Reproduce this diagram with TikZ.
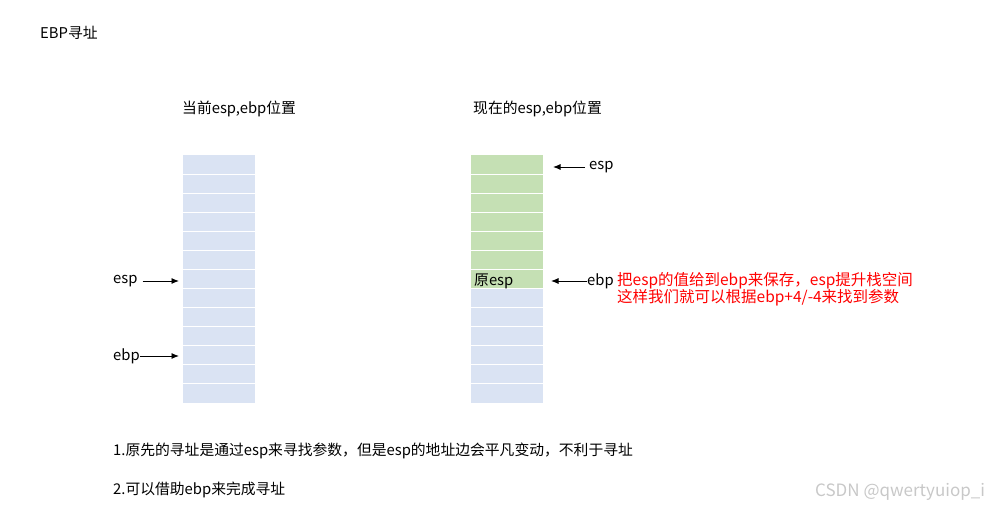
\documentclass[tikz,border=0pt]{standalone}
\usepackage{fontspec}
\setmainfont{Noto Sans CJK SC}
\usetikzlibrary{arrows.meta}
\definecolor{cellblue}{HTML}{DAE3F3}
\definecolor{cellgreen}{HTML}{C5E0B4}
\definecolor{notered}{HTML}{FF0000}
\definecolor{wm}{HTML}{C8C8C8}
\begin{document}
\begin{tikzpicture}[x=1pt,y=-1pt,
  cell/.style={draw=white,line width=1pt,minimum width=73pt,minimum height=19.08pt,inner sep=0pt,outer sep=0pt},
  txt/.style={anchor=west,inner sep=0pt,font=\fontsize{14.8}{17}\selectfont},
  arr/.style={-{Latex[length=7.5pt,width=6pt]},line width=0.9pt}]
\useasboundingbox (0,0) rectangle (991,510);
\node[txt] (title) at (40,33) {EBP寻址};
\node[txt] (lt) at (182,109) {当前esp,ebp位置};
\node[txt] (rt) at (473,109) {现在的esp,ebp位置};
\foreach \i in {0,...,12}{
  \node[cell,fill=cellblue] (L\i) at (218.5,{164.54+19.08*\i}) {};
}
\foreach \i in {0,...,6}{
  \node[cell,fill=cellgreen] (R\i) at (506.5,{164.54+19.08*\i}) {};
}
\foreach \i in {7,...,12}{
  \node[cell,fill=cellblue] (R\i) at (506.5,{164.54+19.08*\i}) {};
}
\node[txt] (yesp) at (474,281) {原esp};
\node[txt] (lesp) at (113,281) {esp};
\node[txt] (lebp) at (113,356) {ebp};
\draw[arr] ([xshift=5pt]lesp.east) -- ([xshift=-3pt]L6.west |- lesp.east);
\draw[arr] (lebp.east) -- ([xshift=-3pt]L10.west |- lebp.east);
\node[txt] (resp) at (589,167) {esp};
\node[txt] (rebp) at (587,281) {ebp};
\draw[arr] ([xshift=-4pt]resp.west) -- ([xshift=10pt]R0.east |- resp.west);
\draw[arr] (rebp.west) -- ([xshift=8pt]R6.east |- rebp.west);
\node[txt,text=notered,font=\fontsize{15.5}{18}\selectfont] (n1) at (617,281) {把esp的值给到ebp来保存，esp提升栈空间};
\node[txt,text=notered,font=\fontsize{15.5}{18}\selectfont] (n2) at (617,298) {这样我们就可以根据ebp+4/-4来找到参数};
\node[txt] (b1) at (113,451) {1.原先的寻址是通过esp来寻找参数，但是esp的地址边会平凡变动，不利于寻址};
\node[txt] (b2) at (113,490) {2.可以借助ebp来完成寻址};
\node[txt,text=wm,font=\fontsize{17}{19}\selectfont] (w) at (815,492) {CSDN @qwertyuiop\_i};
\end{tikzpicture}
\end{document}
